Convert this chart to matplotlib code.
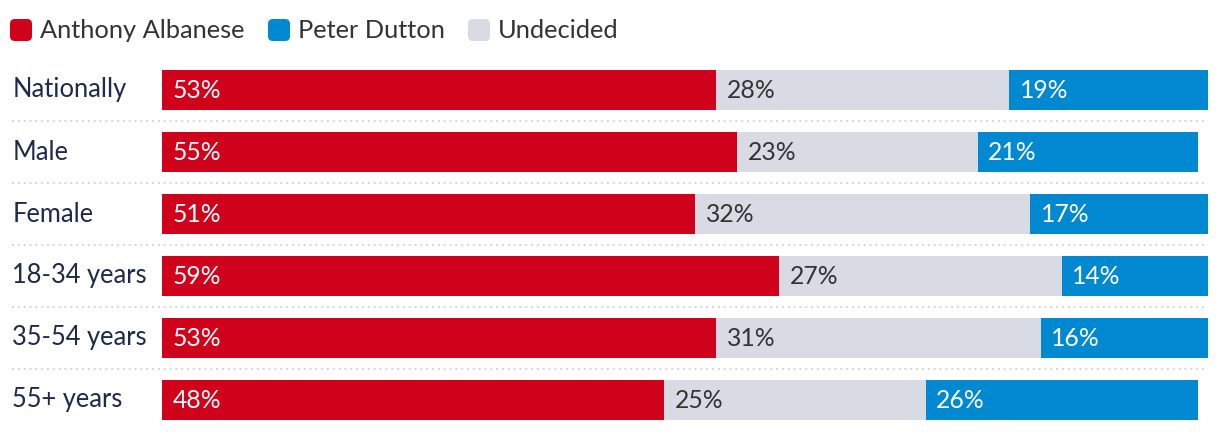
import matplotlib.pyplot as plt
from matplotlib.patches import FancyBboxPatch

plt.rcParams['font.family'] = ['Lato', 'DejaVu Sans']

groups = ['Nationally', 'Male', 'Female', '18-34 years', '35-54 years', '55+ years']
albanese = [53, 55, 51, 59, 53, 48]
undecided = [28, 23, 32, 27, 31, 25]
dutton = [19, 21, 17, 14, 16, 26]

RED = '#d0021b'
BLUE = '#0088d1'
GREY = '#d8dbe3'
NAVY = '#1c2b4a'
DARK = '#333333'

W, H = 1220, 432
fig = plt.figure(figsize=(W / 100, H / 100), dpi=100)
ax = fig.add_axes([162 / W, 1 - 431 / H, 1046 / W, 372 / H])

y = list(range(len(groups)))
h = 40 / 62
left2 = [a for a in albanese]
left3 = [a + u for a, u in zip(albanese, undecided)]
b1 = ax.barh(y, albanese, height=h, color=RED)
b2 = ax.barh(y, undecided, left=left2, height=h, color=GREY)
b3 = ax.barh(y, dutton, left=left3, height=h, color=BLUE)

for bars, vals, col in [(b1, albanese, 'white'), (b2, undecided, DARK), (b3, dutton, 'white')]:
    for bar, v in zip(bars, vals):
        ax.annotate(f'{v}%', (bar.get_x(), bar.get_y() + bar.get_height() / 2),
                    xytext=(7.5, 0), textcoords='offset points',
                    va='center', ha='left', fontsize=17.8, color=col)

for i, g in enumerate(groups):
    ax.text(-14.3, i, g, va='center', ha='left', fontsize=18.4, color=NAVY, clip_on=False)

for i in range(len(groups) - 1):
    ax.plot([-14.3, 100], [i + 0.5, i + 0.5], ls=(0, (1, 2)), lw=1.4, color='#d6d6d6',
            clip_on=False)

ax.set_xlim(0, 100)
ax.set_ylim(len(groups) - 0.5, -0.5)
ax.axis('off')

# legend
legend = [('Anthony Albanese', RED, 10), ('Peter Dutton', BLUE, 268), ('Undecided', GREY, 468)]
for name, col, x0 in legend:
    sq = FancyBboxPatch((x0 / W, 1 - 41 / H), 22 / W, 22 / H,
                        boxstyle='round,pad=0,rounding_size=0.004',
                        transform=fig.transFigure, facecolor=col, edgecolor='none',
                        mutation_aspect=W / H)
    fig.patches.append(sq)
    fig.text((x0 + 30) / W, 1 - 30 / H, name, va='center', ha='left',
             fontsize=18.3, color=DARK)

fig.savefig('out.png', dpi=100)
